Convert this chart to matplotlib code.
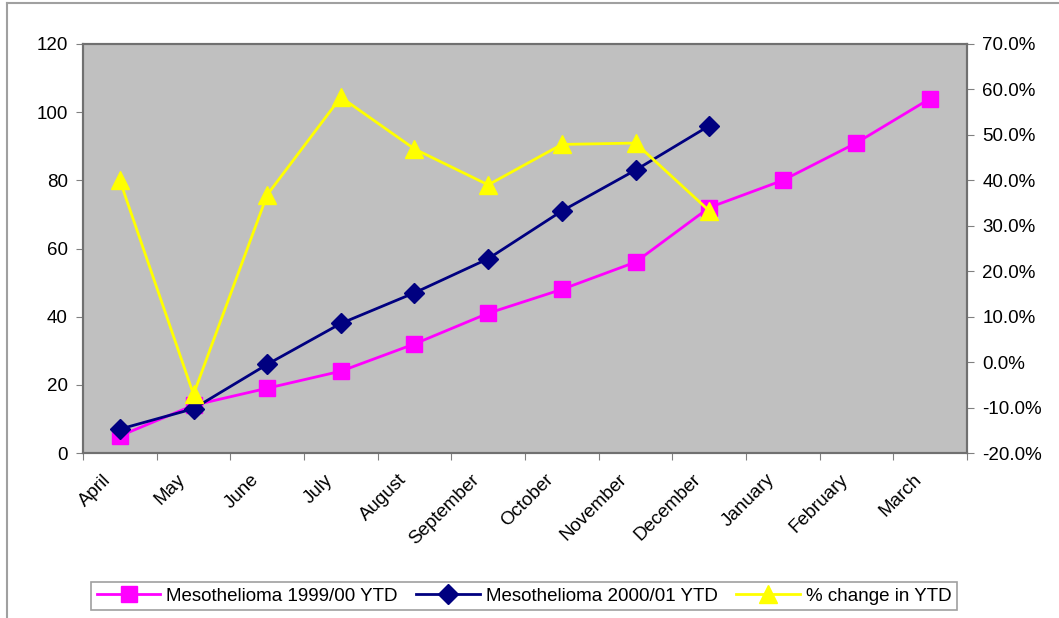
import numpy as np
import matplotlib
matplotlib.use('Agg')
import matplotlib.pyplot as plt
import matplotlib.transforms as mtransforms
from matplotlib.lines import Line2D
from matplotlib.ticker import FuncFormatter

plt.rcParams["font.family"] = ["Liberation Sans", "DejaVu Sans"]
plt.rcParams["font.size"] = 13.5

months = ['April', 'May', 'June', 'July', 'August', 'September',
          'October', 'November', 'December', 'January', 'February', 'March']
ytd_1999 = [5, 14, 19, 24, 32, 41, 48, 56, 72, 80, 91, 104]
ytd_2000 = [7, 13, 26, 38, 47, 57, 71, 83, 96]
pct_change = [40.0, -7.1, 36.8, 58.3, 46.9, 39.0, 47.9, 48.2, 33.3]

left_ticks = [0, 20, 40, 60, 80, 100, 120]
right_ticks = [-20, -10, 0, 10, 20, 30, 40, 50, 60, 70]

fig = plt.figure(figsize=(10.59, 6.18), dpi=100)
ax = fig.add_axes([83 / 1059, 165 / 618, 884 / 1059, 409 / 618])
ax.set_facecolor('#c0c0c0')

x1 = np.arange(len(ytd_1999))
x2 = np.arange(len(ytd_2000))
l1, = ax.plot(x1, ytd_1999, color='#ff00ff', lw=2, marker='s', ms=12,
              mfc='#ff00ff', mec='#ff00ff', label='Mesothelioma 1999/00 YTD')
l2, = ax.plot(x2, ytd_2000, color='#000080', lw=2, marker='D', ms=10,
              mfc='#000080', mec='#000080', label='Mesothelioma 2000/01 YTD')

ax.set_xlim(-0.5, len(months) - 0.5)
ax.set_ylim(0, 120)
ax.set_yticks(left_ticks)
ax.set_xticks(np.arange(len(months) + 1) - 0.5)
ax.set_xticklabels([])
ax.set_xticks(np.arange(len(months)), minor=True)
ax.set_xticklabels(months, minor=True, rotation=45, ha='right', va='top',
                   rotation_mode='anchor')
ax.tick_params(axis='x', which='minor', length=0, pad=13)
ax.tick_params(axis='x', which='major', length=5, direction='out', color='#808080')
ax.tick_params(axis='y', length=5, direction='out', color='#808080', pad=6)

# nudge the slanted month names a little to the left
shift = mtransforms.ScaledTranslation(-17 / 100, 0, fig.dpi_scale_trans)
for lab in ax.get_xticklabels(minor=True):
    lab.set_transform(lab.get_transform() + shift)

for s in ax.spines.values():
    s.set_color('#707070')
    s.set_linewidth(1.5)

ax2 = ax.twinx()
l3, = ax2.plot(x2, pct_change, color='#ffff00', lw=2, marker='^', ms=13,
               mfc='#ffff00', mec='#ffff00', label='% change in YTD')
ax2.set_ylim(-20, 70)
ax2.set_yticks(right_ticks)
ax2.yaxis.set_major_formatter(FuncFormatter(lambda v, p: '%.1f%%' % v))
ax2.tick_params(axis='y', length=5, direction='out', color='#808080', pad=6)
for s in ax2.spines.values():
    s.set_color('#707070')
    s.set_linewidth(1.5)

leg = fig.legend(handles=[l1, l2, l3], loc='center', ncol=3,
                 bbox_to_anchor=(524 / 1059, 1 - 596 / 618),
                 fancybox=False, framealpha=1, edgecolor='#a0a0a0',
                 handlelength=3.4, columnspacing=1.0, handletextpad=0.3,
                 borderpad=0.3, fontsize=13.5)
leg.get_frame().set_linewidth(1.2)

# outer chart frame
fig.add_artist(Line2D([7 / 1059, 1], [1 - 3 / 618, 1 - 3 / 618],
                      transform=fig.transFigure, color='#a0a0a0', lw=1.5))
fig.add_artist(Line2D([7 / 1059, 7 / 1059], [0, 1 - 3 / 618],
                      transform=fig.transFigure, color='#a0a0a0', lw=1.5))

fig.savefig('out.png', dpi=100)
